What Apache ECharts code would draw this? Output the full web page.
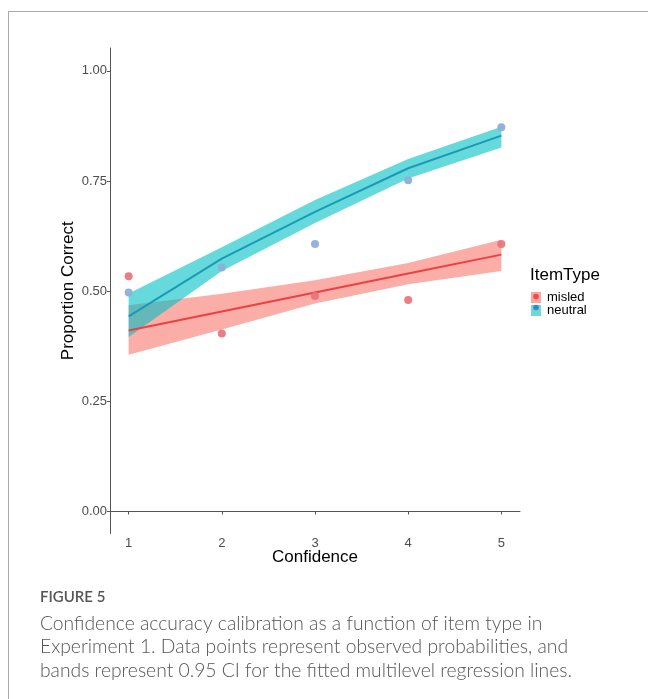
<!DOCTYPE html>
<html><head><meta charset="utf-8">
<script src="https://cdn.jsdelivr.net/npm/echarts@6/dist/echarts.min.js"></script>
<style>html,body{margin:0;padding:0;background:#fff}#c{width:648px;height:699px}</style>
</head><body><div id="c"></div>
<script>
const confidence = [1, 2, 3, 4, 5];
const yTicks = [0, 0.25, 0.5, 0.75, 1.0];
const misledObs = [0.534, 0.404, 0.489, 0.480, 0.607];
const neutralObs = [0.497, 0.554, 0.607, 0.752, 0.872];
const misledFit = [0.411, 0.454, 0.497, 0.540, 0.583];
const misledLo = [0.356, 0.413, 0.472, 0.516, 0.546];
const misledHi = [0.468, 0.494, 0.525, 0.564, 0.617];
const neutralFit = [0.443, 0.574, 0.680, 0.779, 0.853];
const neutralLo = [0.396, 0.546, 0.655, 0.756, 0.826];
const neutralHi = [0.495, 0.600, 0.707, 0.800, 0.873];

const chart = echarts.init(document.getElementById('c'), null, {renderer: 'canvas'});
const pairs = (xs, ys) => xs.map((x, i) => [x, ys[i]]);

function bandSeries(name, lo, hi, color) {
  const data = confidence.map((x, i) => [x, lo[i], hi[i]]);
  return {
    name, type: 'custom', z: 1,
    itemStyle: {color},
    data,
    renderItem: function (params, api) {
      if (params.dataIndex !== 0) return null;
      const upper = data.map(d => api.coord([d[0], d[2]]));
      const lower = data.slice().reverse().map(d => api.coord([d[0], d[1]]));
      return {type: 'polygon', shape: {points: upper.concat(lower)},
        style: {fill: color, opacity: 0.6}};
    },
    encode: {x: 0, y: [1, 2]}
  };
}

const FONT = 'Liberation Sans';
const option = {
  animation: false,
  backgroundColor: '#fff',
  grid: {left: 110, right: 128, top: 48, bottom: 165.5},
  xAxis: {
    type: 'value', min: 0.8, max: 5.2,
    name: 'Confidence', nameLocation: 'middle', nameGap: 15, nameMoveOverlap: false,
    nameTextStyle: {fontSize: 17, color: '#000', fontFamily: FONT},
    axisLine: {show: true, lineStyle: {color: '#555', width: 1}},
    axisTick: {show: true, length: 3, lineStyle: {color: '#555'}, customValues: confidence},
    axisLabel: {color: '#4d4d4d', fontSize: 13, margin: 3, fontFamily: FONT, customValues: confidence,
      formatter: v => String(Math.round(v))},
    splitLine: {show: false}
  },
  yAxis: {
    type: 'value', min: -0.05, max: 1.052,
    name: 'Proportion Correct', nameLocation: 'middle', nameGap: 33, nameMoveOverlap: false,
    nameTextStyle: {fontSize: 17, color: '#000', fontFamily: FONT},
    axisLine: {show: true, lineStyle: {color: '#555', width: 1}},
    axisTick: {show: true, length: 3, lineStyle: {color: '#555'}, customValues: yTicks},
    axisLabel: {color: '#4d4d4d', fontSize: 13, margin: 3, fontFamily: FONT, customValues: yTicks,
      formatter: v => v.toFixed(2)},
    splitLine: {show: false}
  },
  legend: {
    orient: 'vertical', left: 531, top: 291, itemWidth: 10, itemHeight: 11, itemGap: 0,
    padding: 0, icon: 'rect',
    textStyle: {fontSize: 13, lineHeight: 11, color: '#000', fontFamily: FONT, padding: [0, 0, 0, 1]},
    data: [{name: 'misled', itemStyle: {color: '#F9A7A1'}}, {name: 'neutral', itemStyle: {color: '#73D6D9'}}]
  },
  series: [
    bandSeries('misled', misledLo, misledHi, '#F8766D'),
    bandSeries('neutral', neutralLo, neutralHi, '#00BFC4'),
    {name: 'misled', type: 'line', data: pairs(confidence, misledFit), symbol: 'none', z: 3,
      lineStyle: {color: '#EE4040', width: 2}, itemStyle: {color: '#EE4040'}},
    {name: 'neutral', type: 'line', data: pairs(confidence, neutralFit), symbol: 'none', z: 3,
      lineStyle: {color: '#1A9AB4', width: 2}, itemStyle: {color: '#1A9AB4'}},
    {name: 'misled', type: 'scatter', data: pairs(confidence, misledObs), symbolSize: 8, z: 4,
      itemStyle: {color: '#E8707A', opacity: 0.9}},
    {name: 'neutral', type: 'scatter', data: pairs(confidence, neutralObs), symbolSize: 8, z: 4,
      itemStyle: {color: '#8FAED6', opacity: 0.95}}
  ],
  graphic: [
    {type: 'line', shape: {x1: 8, y1: 11.5, x2: 648, y2: 11.5}, style: {stroke: '#aaa', lineWidth: 1}},
    {type: 'line', shape: {x1: 8.5, y1: 11, x2: 8.5, y2: 699}, style: {stroke: '#aaa', lineWidth: 1}},
    {type: 'text', left: 530, top: 267, style: {text: 'ItemType', fontSize: 17, fill: '#000', fontFamily: FONT}},
    {type: 'circle', shape: {cx: 536, cy: 296.5, r: 2.8}, style: {fill: '#EE4a4a'}, z: 100},
    {type: 'circle', shape: {cx: 536, cy: 307.5, r: 2.8}, style: {fill: '#2a8fc0'}, z: 100},
    {type: 'text', left: 40, top: 590, style: {text: 'FIGURE 5', fontSize: 15, fill: '#555', fontWeight: 600, fontFamily: 'Lato'}},
    {type: 'text', left: 40, top: 612, style: {
      text: 'Confidence accuracy calibration as a function of item type in\nExperiment 1. Data points represent observed probabilities, and\nbands represent 0.95 CI for the fitted multilevel regression lines.',
      fontSize: 19.3, lineHeight: 23.5, fill: '#555', fontFamily: 'Lato', fontWeight: 300}}
  ]
};
chart.setOption(option);
</script>
</body></html>
